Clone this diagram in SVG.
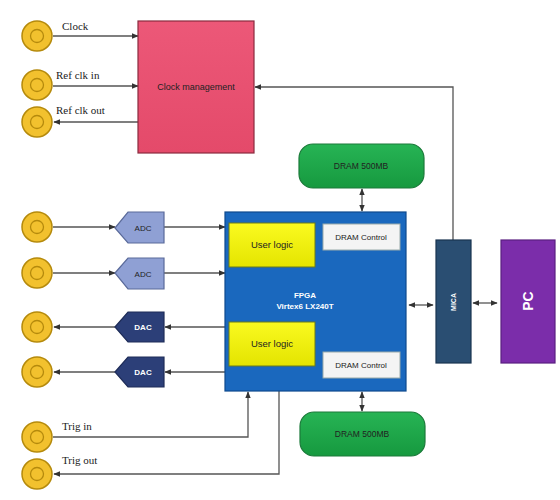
<svg xmlns="http://www.w3.org/2000/svg" width="560" height="500" viewBox="0 0 560 500">
<defs>
<style>
.lbl{font-family:"Liberation Serif",serif;font-size:11px;fill:#222}
.sm{font-family:"Liberation Sans",sans-serif;fill:#222;text-anchor:middle}
.wt{font-family:"Liberation Sans",sans-serif;fill:#fff;text-anchor:middle;font-weight:bold}
.ln{stroke:#555;stroke-width:1.3;fill:none}
.port{fill:#F2C12E;stroke:#B58A0C;stroke-width:1.5}
.porti{fill:none;stroke:#B58A0C;stroke-width:1.3}
.ul{fill:url(#gy);stroke:#6B7A1A;stroke-width:1}
.dc{fill:#F4F4F4;stroke:#9AA;stroke-width:1}
.dram{fill:url(#gg);stroke:#1C7A3A;stroke-width:1.2}
.adc{fill:#8FA0D4;stroke:#5A6A9A;stroke-width:1.2}
.dac{fill:#2C3F78;stroke:#1E2C58;stroke-width:1.2}
</style>
<linearGradient id="gy" x1="0" y1="0" x2="0" y2="1"><stop offset="0" stop-color="#FAFA20"/><stop offset="1" stop-color="#E4E400"/></linearGradient>
<linearGradient id="gg" x1="0" y1="0" x2="0" y2="1"><stop offset="0" stop-color="#27B455"/><stop offset="1" stop-color="#16993F"/></linearGradient>
<linearGradient id="gp" x1="0" y1="0" x2="0" y2="1"><stop offset="0" stop-color="#EC5878"/><stop offset="1" stop-color="#E44A6A"/></linearGradient>
<marker id="ar" viewBox="0 0 10 10" refX="9" refY="5" markerWidth="7" markerHeight="7" markerUnits="userSpaceOnUse" orient="auto-start-reverse"><path d="M0,1 L10,5 L0,9 Z" fill="#333"/></marker>
</defs>
<rect width="560" height="500" fill="#fff"/>

<g id="connectors">
<line class="ln" x1="53" y1="36" x2="138" y2="36" marker-end="url(#ar)"/>
<line class="ln" x1="53" y1="86" x2="138" y2="86" marker-end="url(#ar)"/>
<line class="ln" x1="138" y1="122" x2="54" y2="122" marker-end="url(#ar)"/>
<polyline class="ln" points="453,240 453,87 255,87" marker-end="url(#ar)"/>
<line class="ln" x1="53" y1="227" x2="115" y2="227" marker-end="url(#ar)"/>
<line class="ln" x1="164" y1="227" x2="225" y2="227" marker-end="url(#ar)"/>
<line class="ln" x1="53" y1="273" x2="115" y2="273" marker-end="url(#ar)"/>
<line class="ln" x1="164" y1="273" x2="225" y2="273" marker-end="url(#ar)"/>
<line class="ln" x1="225" y1="327" x2="165" y2="327" marker-end="url(#ar)"/>
<line class="ln" x1="115" y1="327" x2="54" y2="327" marker-end="url(#ar)"/>
<line class="ln" x1="225" y1="372" x2="165" y2="372" marker-end="url(#ar)"/>
<line class="ln" x1="115" y1="372" x2="54" y2="372" marker-end="url(#ar)"/>
<polyline class="ln" points="53,437 248,437 248,392" marker-end="url(#ar)"/>
<polyline class="ln" points="279,391 279,474 54,474" marker-end="url(#ar)"/>
<line class="ln" x1="362" y1="189" x2="362" y2="211" marker-start="url(#ar)" marker-end="url(#ar)"/>
<line class="ln" x1="362" y1="392" x2="362" y2="411" marker-start="url(#ar)" marker-end="url(#ar)"/>
<line class="ln" x1="409" y1="305" x2="433" y2="305" marker-start="url(#ar)" marker-end="url(#ar)"/>
<line class="ln" x1="473" y1="303" x2="497" y2="303" marker-start="url(#ar)" marker-end="url(#ar)"/>
</g>

<g id="port-clock"><circle class="port" cx="37" cy="36" r="15"/><circle class="porti" cx="37" cy="36" r="6.5"/><text class="lbl" x="62" y="30">Clock</text></g>
<g id="port-refin"><circle class="port" cx="37" cy="85" r="15"/><circle class="porti" cx="37" cy="85" r="6.5"/><text class="lbl" x="56" y="79">Ref clk in</text></g>
<g id="port-refout"><circle class="port" cx="37" cy="122" r="15"/><circle class="porti" cx="37" cy="122" r="6.5"/><text class="lbl" x="56" y="114">Ref clk out</text></g>
<g id="port-a1"><circle class="port" cx="37" cy="227" r="15"/><circle class="porti" cx="37" cy="227" r="6.5"/></g>
<g id="port-a2"><circle class="port" cx="37" cy="273" r="15"/><circle class="porti" cx="37" cy="273" r="6.5"/></g>
<g id="port-d1"><circle class="port" cx="37" cy="327" r="15"/><circle class="porti" cx="37" cy="327" r="6.5"/></g>
<g id="port-d2"><circle class="port" cx="37" cy="372" r="15"/><circle class="porti" cx="37" cy="372" r="6.5"/></g>
<g id="port-trigin"><circle class="port" cx="37" cy="437" r="15"/><circle class="porti" cx="37" cy="437" r="6.5"/><text class="lbl" x="62" y="430">Trig in</text></g>
<g id="port-trigout"><circle class="port" cx="37" cy="474" r="15"/><circle class="porti" cx="37" cy="474" r="6.5"/><text class="lbl" x="62" y="464">Trig out</text></g>

<g id="clock-mgmt"><rect x="138" y="21" width="116" height="132" fill="url(#gp)" stroke="#8A2A3E" stroke-width="1.2"/><text class="sm" x="196" y="90" font-size="9">Clock management</text></g>

<g id="adc1"><path class="adc" d="M115,228 L128,212 L164,212 L164,243 L128,243 Z"/><text class="sm" x="143" y="231" font-size="8" fill="#233">ADC</text></g>
<g id="adc2"><path class="adc" d="M115,273 L128,258 L164,258 L164,289 L128,289 Z"/><text class="sm" x="143" y="277" font-size="8" fill="#233">ADC</text></g>
<g id="dac1"><path class="dac" d="M115,327 L128,312 L164,312 L164,342 L128,342 Z"/><text class="wt" x="143" y="330" font-size="8" font-weight="normal">DAC</text></g>
<g id="dac2"><path class="dac" d="M115,372 L128,357 L164,357 L164,387 L128,387 Z"/><text class="wt" x="143" y="375" font-size="8" font-weight="normal">DAC</text></g>

<g id="fpga"><rect x="225" y="212" width="181" height="179" fill="#1A68BE" stroke="#0E4A8E" stroke-width="1.2"/><text class="wt" x="305" y="298" font-size="8">FPGA</text><text class="wt" x="305" y="309" font-size="8">Virtex6 LX240T</text></g>
<g id="userlogic1"><rect class="ul" x="229" y="223" width="86" height="44"/><text class="sm" x="272" y="248" font-size="9.5">User logic</text></g>
<g id="userlogic2"><rect class="ul" x="229" y="322" width="86" height="44"/><text class="sm" x="272" y="347" font-size="9.5">User logic</text></g>
<g id="dramctl1"><rect class="dc" x="323" y="224" width="77" height="26"/><text class="sm" x="361" y="240" font-size="8">DRAM Control</text></g>
<g id="dramctl2"><rect class="dc" x="323" y="352" width="77" height="26"/><text class="sm" x="361" y="368" font-size="8">DRAM Control</text></g>

<g id="dram1"><rect class="dram" x="299" y="144" width="125" height="44" rx="14"/><text class="sm" x="361" y="169" font-size="8.5" fill="#1a3a1a">DRAM 500MB</text></g>
<g id="dram2"><rect class="dram" x="300" y="412" width="125" height="44" rx="14"/><text class="sm" x="362" y="437" font-size="8.5" fill="#1a3a1a">DRAM 500MB</text></g>

<g id="mica"><rect x="436" y="240" width="35" height="123" fill="#2A4E72" stroke="#1A3450" stroke-width="1.2"/><text class="wt" transform="translate(456,302) rotate(-90)" font-size="7">MICA</text></g>
<g id="pc"><rect x="501" y="240" width="54" height="123" fill="#7B2DAA" stroke="#5A1E80" stroke-width="1.2"/><text class="wt" transform="translate(533,301) rotate(-90)" font-size="14">PC</text></g>
</svg>
